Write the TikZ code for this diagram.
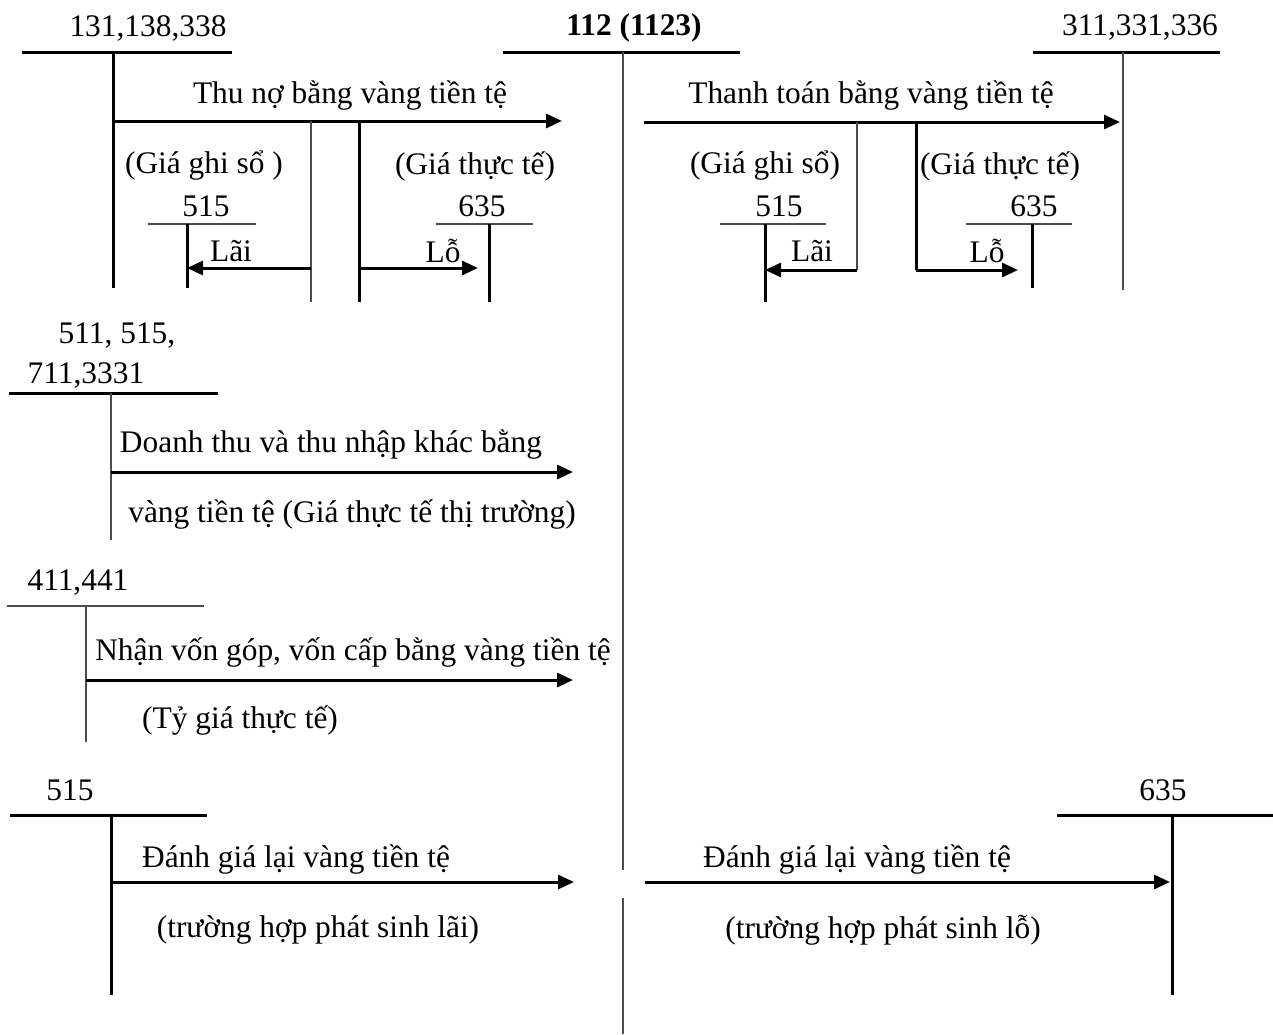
\documentclass[tikz,border=0pt]{standalone}
\usepackage{fontspec}
\setmainfont{Liberation Serif}
\usetikzlibrary{arrows.meta}
\tikzset{
  acct/.style={line width=1.5pt},
  thinacct/.style={line width=0.8pt, black!70},
  arr/.style={line width=1.5pt, -{Triangle[length=8pt,width=7pt]}},
  lbl/.style={inner sep=0pt, yshift=-1.5pt}
}
\begin{document}
\fontsize{15.7}{18}\selectfont
\begin{tikzpicture}[x=0.5pt,y=-0.5pt]
  \useasboundingbox (0,0) rectangle (1273,1034);
  \node[lbl, font=\bfseries] (tk112) at (634,25) {112 (1123)};
  \coordinate (tk112l) at (503,52);
  \coordinate (tk112r) at (740,52);
  \coordinate (tk112t) at (623,52);
  \coordinate (tk112m) at (623,870);
  \coordinate (tk112n) at (623,898);
  \coordinate (tk112b) at (623,1034);
  \draw[acct] (tk112l) -- (tk112r);
  \draw[thinacct] (tk112t) -- (tk112m);
  \draw[thinacct] (tk112n) -- (tk112b);
  \node[lbl] (tk131) at (148,25) {131,138,338};
  \coordinate (tk131l) at (22,52);
  \coordinate (tk131r) at (232,52);
  \coordinate (tk131t) at (113,52);
  \coordinate (tk131b) at (113,288);
  \draw[acct] (tk131l) -- (tk131r);
  \draw[acct] (tk131t) -- (tk131b);
  \coordinate (thu1) at (113,121);
  \coordinate (thu2) at (562,121);
  \draw[arr] (thu1) -- (thu2);
  \node[lbl] (thutxt) at (350,93) {Thu nợ bằng vàng tiền tệ};
  \coordinate (gs1) at (311,121);
  \coordinate (gs2) at (311,268);
  \coordinate (gs3) at (311,302);
  \draw[thinacct] (gs1) -- (gs3);
  \coordinate (tt1) at (359,121);
  \coordinate (tt2) at (359,268);
  \coordinate (tt3) at (359,302);
  \draw[acct] (tt1) -- (tt3);
  \node[lbl] (gstxt) at (204,163) {(Giá ghi sổ )};
  \node[lbl] (tttxt) at (475,163) {(Giá thực tế)};
  \node[lbl] (l515) at (206,203) {515};
  \coordinate (l515l) at (148,224);
  \coordinate (l515r) at (256,224);
  \coordinate (l515t) at (187,224);
  \coordinate (l515b) at (187,288);
  \coordinate (l515a) at (187,268);
  \draw[thinacct] (l515l) -- (l515r);
  \draw[acct] (l515t) -- (l515b);
  \draw[arr] (gs2) -- (l515a);
  \node[lbl] (lai1) at (231,248) {Lãi};
  \node[lbl] (l635) at (482,203) {635};
  \coordinate (l635l) at (436,224);
  \coordinate (l635r) at (533,224);
  \coordinate (l635t) at (489,224);
  \coordinate (l635b) at (489,302);
  \coordinate (l635a) at (478,268);
  \draw[thinacct] (l635l) -- (l635r);
  \draw[acct] (l635t) -- (l635b);
  \draw[arr] (tt2) -- (l635a);
  \node[lbl] (lo1) at (443,248) {Lỗ};
  \node[lbl] (tk311) at (1140,25) {311,331,336};
  \coordinate (tk311l) at (1033,52);
  \coordinate (tk311r) at (1220,52);
  \coordinate (tk311t) at (1123,52);
  \coordinate (tk311b) at (1123,290);
  \draw[acct] (tk311l) -- (tk311r);
  \draw[thinacct] (tk311t) -- (tk311b);
  \coordinate (tto1) at (644,122);
  \coordinate (tto2) at (1120,122);
  \draw[arr] (tto1) -- (tto2);
  \node[lbl] (ttotxt) at (871,93) {Thanh toán bằng vàng tiền tệ};
  \coordinate (rgs1) at (857,122);
  \coordinate (rgs2) at (857,270);
  \draw[thinacct] (rgs1) -- (rgs2);
  \coordinate (rtt1) at (916,122);
  \coordinate (rtt2) at (916,270);
  \draw[acct] (rtt1) -- (rtt2);
  \node[lbl] (rgstxt) at (765,163) {(Giá ghi sổ)};
  \node[lbl] (rtttxt) at (1000,163) {(Giá thực tế)};
  \node[lbl] (r515) at (779,203) {515};
  \coordinate (r515l) at (720,224);
  \coordinate (r515r) at (826,224);
  \coordinate (r515t) at (765,224);
  \coordinate (r515b) at (765,302);
  \coordinate (r515a) at (765,270);
  \draw[thinacct] (r515l) -- (r515r);
  \draw[acct] (r515t) -- (r515b);
  \draw[arr] (rgs2) -- (r515a);
  \node[lbl] (lai2) at (812,248) {Lãi};
  \node[lbl] (r635) at (1034,203) {635};
  \coordinate (r635l) at (966,224);
  \coordinate (r635r) at (1072,224);
  \coordinate (r635t) at (1032,224);
  \coordinate (r635b) at (1032,288);
  \coordinate (r635a) at (1018,270);
  \draw[thinacct] (r635l) -- (r635r);
  \draw[acct] (r635t) -- (r635b);
  \draw[arr] (rtt2) -- (r635a);
  \node[lbl] (lo2) at (987,248) {Lỗ};
  \node[lbl] (tk511a) at (117,333) {511, 515,};
  \node[lbl] (tk511b) at (86,373) {711,3331};
  \coordinate (tk511l) at (9,393);
  \coordinate (tk511r) at (218,393);
  \coordinate (tk511t) at (111,393);
  \coordinate (tk511e) at (111,540);
  \draw[acct] (tk511l) -- (tk511r);
  \draw[thinacct] (tk511t) -- (tk511e);
  \coordinate (dt1) at (111,472);
  \coordinate (dt2) at (573,472);
  \draw[arr] (dt1) -- (dt2);
  \node[lbl] (dttxt1) at (331,442) {Doanh thu và thu nhập khác bằng};
  \node[lbl] (dttxt2) at (352,512) {vàng tiền tệ (Giá thực tế thị trường)};
  \node[lbl] (tk411) at (78,580) {411,441};
  \coordinate (tk411l) at (7,606);
  \coordinate (tk411r) at (204,606);
  \coordinate (tk411t) at (86,606);
  \coordinate (tk411e) at (86,742);
  \draw[thinacct] (tk411l) -- (tk411r);
  \draw[thinacct] (tk411t) -- (tk411e);
  \coordinate (nv1) at (86,680);
  \coordinate (nv2) at (573,680);
  \draw[arr] (nv1) -- (nv2);
  \node[lbl] (nvtxt1) at (353,650) {Nhận vốn góp, vốn cấp bằng vàng tiền tệ};
  \node[lbl] (nvtxt2) at (240,718) {(Tỷ giá thực tế)};
  \node[lbl] (b515) at (70,787) {515};
  \coordinate (b515l) at (10,815);
  \coordinate (b515r) at (207,815);
  \coordinate (b515t) at (111,815);
  \coordinate (b515e) at (111,995);
  \draw[acct] (b515l) -- (b515r);
  \draw[acct] (b515t) -- (b515e);
  \coordinate (dgl1) at (111,882);
  \coordinate (dgl2) at (574,882);
  \draw[arr] (dgl1) -- (dgl2);
  \node[lbl] (dgltxt1) at (296,857) {Đánh giá lại vàng tiền tệ};
  \node[lbl] (dgltxt2) at (318,927) {(trường hợp phát sinh lãi)};
  \node[lbl] (b635) at (1163,787) {635};
  \coordinate (b635l) at (1057,815);
  \coordinate (b635r) at (1273,815);
  \coordinate (b635t) at (1172,815);
  \coordinate (b635e) at (1172,995);
  \draw[acct] (b635l) -- (b635r);
  \draw[acct] (b635t) -- (b635e);
  \coordinate (dgr1) at (645,882);
  \coordinate (dgr2) at (1170,882);
  \draw[arr] (dgr1) -- (dgr2);
  \node[lbl] (dgrtxt1) at (857,857) {Đánh giá lại vàng tiền tệ};
  \node[lbl] (dgrtxt2) at (883,927) {(trường hợp phát sinh lỗ)};
\end{tikzpicture}
\end{document}
